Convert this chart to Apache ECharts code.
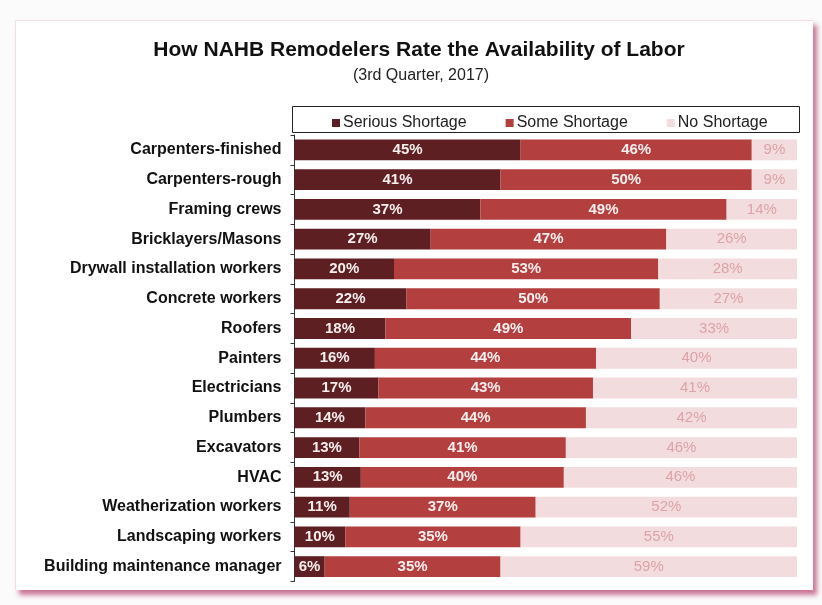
<!DOCTYPE html>
<html>
<head>
<meta charset="utf-8">
<script src="https://cdn.jsdelivr.net/npm/echarts@6/dist/echarts.min.js"></script>
<style>
  html, body { margin: 0; padding: 0; background: #fbfbfb; }
  #card { position: absolute; left: 15px; top: 20px; width: 797px; height: 569px; background: #ffffff;
          border-top: 1px solid #f3dde6; border-left: 1px solid #f3dde6;
          box-shadow: 4px 5px 5px rgba(185, 70, 115, 0.75); }
  #chart { position: absolute; left: 0; top: 0; width: 822px; height: 605px; }
</style>
</head>
<body>
<div id="card"></div>
<div id="chart"></div>
<script>
const titleText = 'How NAHB Remodelers Rate the Availability of Labor';
const subtitleText = '(3rd Quarter, 2017)';
const seriesNames = ['Serious Shortage', 'Some Shortage', 'No Shortage'];
const categories = [
  'Carpenters-finished', 'Carpenters-rough', 'Framing crews', 'Bricklayers/Masons',
  'Drywall installation workers', 'Concrete workers', 'Roofers', 'Painters', 'Electricians',
  'Plumbers', 'Excavators', 'HVAC', 'Weatherization workers', 'Landscaping workers',
  'Building maintenance manager'
];
const serious = [45.0, 41.0, 37.0, 27.1, 19.8, 22.3, 18.1, 16.0, 16.7, 14.1, 12.9, 13.2, 11.0, 10.1, 6.0];
const some    = [46.0, 50.0, 49.0, 46.9, 52.6, 50.4, 48.9, 44.0, 42.7, 43.9, 41.1, 40.4, 37.0, 34.9, 35.0];
const none    = [ 9.0,  9.0, 14.0, 26.0, 27.6, 27.3, 33.0, 40.0, 40.6, 42.0, 46.0, 46.4, 52.0, 55.0, 59.0];

const FONT = '"Liberation Sans", Arial, sans-serif';
const colors = ['#5e1f22', '#b3403f', '#f3dcdd'];
const labelColors = ['#f7eeee', '#f7eeee', '#dca2a7'];
const labelWeights = ['bold', 'bold', 'normal'];
const allData = [serious, some, none];

const chart = echarts.init(document.getElementById('chart'), null, { renderer: 'canvas' });
chart.setOption({
  animation: false,
  backgroundColor: 'transparent',
  title: [
    { text: titleText, left: 414, top: 35, textAlign: 'center',
      textStyle: { fontFamily: FONT, fontSize: 21, fontWeight: 'bold', color: '#111' } },
    { text: subtitleText, left: 416, top: 63, textAlign: 'center',
      textStyle: { fontFamily: FONT, fontSize: 16, fontWeight: 'normal', color: '#222' } }
  ],
  graphic: [
    { type: 'rect', left: 290, top: 104, shape: { width: 507, height: 26 },
      style: { fill: 'none', stroke: '#222', lineWidth: 1 }, z: 10 }
  ],
  legend: {
    data: seriesNames,
    left: 327, top: 110,
    itemWidth: 8, itemHeight: 8, itemGap: 39,
    icon: 'rect',
    textStyle: { fontFamily: FONT, fontSize: 16, color: '#222', padding: [0, 0, 0, -2] }
  },
  grid: { left: 294.5, right: 25, top: 135, bottom: 23.5, containLabel: false },
  xAxis: { type: 'value', min: 0, max: 100, show: false },
  yAxis: {
    type: 'category', data: categories, inverse: true,
    axisLine: { show: true, lineStyle: { color: '#333', width: 1 } },
    axisTick: { show: true, length: 4, lineStyle: { color: '#333' } },
    axisLabel: { fontFamily: FONT, fontSize: 16, fontWeight: 'bold', color: '#111', margin: 13 }
  },
  series: seriesNames.map((name, i) => ({
    name: name, type: 'bar', stack: 'total', data: allData[i],
    barCategoryGap: '30%',
    itemStyle: { color: colors[i] },
    label: {
      show: true, position: 'inside',
      formatter: p => Math.round(p.value) + '%',
      fontFamily: FONT, fontSize: 15, fontWeight: labelWeights[i], color: labelColors[i]
    }
  }))
});
</script>
</body>
</html>
